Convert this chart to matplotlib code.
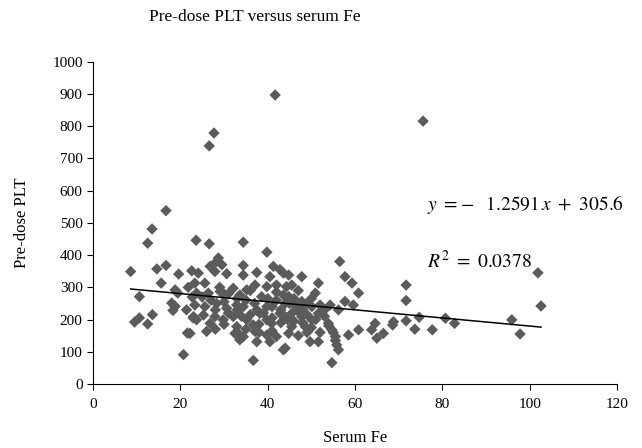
import matplotlib
matplotlib.use("Agg")
import matplotlib.pyplot as plt
import numpy as np

# ---- data ----
serum_fe = [
    # x < 22
    16.7, 13.5, 12.5, 8.6, 14.6, 16.7, 19.6, 15.6, 10.6, 9.5, 10.6, 13.6, 12.5,
    21.6, 20.7, 18.8, 19.4, 18.0, 18.8, 21.4, 21.8, 18.3, 22.9, 22.7, 22.6,
    # upper band 22-44
    23.6, 26.6, 27.9, 28.7, 34.4, 39.8, 29.5, 26.8, 34.4, 41.3, 42.8,
    # outliers
    27.7, 26.6, 41.7,
    # core 22-45
    24.1, 27.9, 30.6, 34.4, 37.5, 40.5, 43.6, 23.3, 25.6, 29.1, 32.1, 35.2,
    37.1, 39.8, 42.0, 44.3, 23.7, 26.4, 29.8, 33.6, 38.6, 43.6, 23.3, 25.6,
    28.3, 30.6, 32.9, 34.4, 37.5, 39.8, 23.0, 25.3, 27.9, 29.8, 32.1, 35.2,
    38.2, 39.8, 42.8, 23.7, 26.8, 32.9, 36.7, 40.9, 44.0, 26.0, 22.2, 32.5,
    34.4, 37.1, 39.8, 42.0, 33.6, 37.5, 40.5, 43.6, 36.7,
    25.0, 27.0, 28.0, 29.0, 30.0, 31.0, 31.0, 33.0, 33.0, 34.0, 35.0, 36.0,
    36.0, 37.0, 38.0, 39.0, 40.0, 41.0, 41.0, 42.0, 43.0, 43.0, 35.0, 30.0,
    28.0, 33.0, 38.0, 41.0, 42.0, 44.0,
    # core 44-67
    44.8, 47.8, 45.5, 51.6, 57.7, 59.3, 50.9, 60.8, 44.8, 47.8, 50.1, 54.3,
    57.7, 59.6, 56.2, 45.5, 47.8, 50.1, 51.6, 53.9, 45.5, 48.6, 44.8, 54.7,
    55.5, 58.5, 60.8, 64.6, 63.8, 65.0, 66.5, 49.7, 51.6, 55.8, 56.2, 44.0,
    54.7, 46.5, 47.0, 45.0, 49.0, 46.0, 48.0, 44.5, 54.0, 55.0, 55.5, 56.5,
    46.0, 47.0, 49.0, 50.0, 51.0, 52.0, 53.0, 52.0, 49.0, 47.0, 50.0, 53.0,
    48.0,
    # x > 67
    71.7, 71.7, 71.7, 68.8, 68.6, 73.7, 74.7, 77.7, 80.7, 82.8, 95.9, 97.8,
    101.9, 102.6, 75.6,
]
pre_dose_plt = [
    538, 481, 437, 349, 357, 368, 341, 313, 271, 192, 205, 215, 186,
    158, 91, 292, 282, 251, 241, 230, 300, 228, 205, 270, 351,
    446, 435, 375, 391, 440, 409, 370, 365, 368, 365, 355,
    779, 739, 897,
    344, 349, 342, 338, 346, 333, 344, 313, 313, 287, 297, 292,
    307, 302, 307, 302, 282, 282, 282, 276, 271, 276, 245, 240,
    250, 235, 245, 240, 230, 240, 209, 214, 209, 199, 209, 199,
    219, 199, 219, 199, 188, 178, 183, 188, 209, 163, 157, 157,
    147, 163, 152, 147, 137, 131, 131, 106, 73,
    270, 260, 230, 300, 255, 220, 280, 265, 230, 210, 260, 215,
    290, 250, 185, 220, 265, 240, 205, 285, 230, 190, 170, 185,
    170, 160, 160, 165, 260, 250,
    338, 333, 307, 313, 333, 313, 282, 282, 271, 256, 240, 245,
    256, 245, 230, 219, 209, 199, 219, 188, 178, 178, 157, 168,
    147, 152, 168, 188, 168, 142, 157, 131, 131, 121, 106, 111,
    66, 240, 225, 250, 215, 195, 190, 200, 180, 160, 135, 380,
    265, 290, 250, 265, 200, 245, 210, 160, 160, 150, 175, 230,
    230,
    307, 259, 196, 193, 183, 170, 207, 168, 204, 188, 199, 155,
    345, 242, 816,
]
trend_slope = -1.2591
trend_intercept = 305.6
r_squared = 0.0378

x_ticks = [0, 20, 40, 60, 80, 100, 120]
y_ticks = [0, 100, 200, 300, 400, 500, 600, 700, 800, 900, 1000]

plt.rcParams['font.family'] = ['Liberation Serif', 'DejaVu Serif']
plt.rcParams['mathtext.fontset'] = 'stix'

fig = plt.figure(figsize=(6.42, 4.48), dpi=100)
ax = fig.add_axes([0.145, 0.143, 0.816, 0.719])

ax.scatter(serum_fe, pre_dose_plt, marker='D', s=34, color='#5b5b5b',
           edgecolors='none', zorder=2)

xs = np.array([min(serum_fe), max(serum_fe)])
ax.plot(xs, trend_slope * xs + trend_intercept, color='black', lw=1.1, zorder=3)

ax.set_xlim(0, 120)
ax.set_ylim(0, 1000)
ax.set_xticks(x_ticks)
ax.set_yticks(y_ticks)
ax.tick_params(direction='out', length=4, width=0.8, labelsize=11, colors='black')
ax.tick_params(axis='x', pad=6)
for s in ['top', 'right']:
    ax.spines[s].set_visible(False)
for s in ['left', 'bottom']:
    ax.spines[s].set_linewidth(0.8)

fig.text(255 / 642, 1 - 17 / 448, 'Pre-dose PLT versus serum Fe',
         fontsize=12.5, ha='center', va='center')
ax.set_xlabel('Serum Fe', fontsize=12, labelpad=14)
ax.set_ylabel('Pre-dose PLT', fontsize=12, labelpad=16)

eq = r'$y\ =\!-\ \ %.4f\,x\ +\ %.1f$' % (abs(trend_slope), trend_intercept)
ax.text(76.6, 556, eq, fontsize=14, va='center', ha='left')
ax.text(76.6, 380, r'$R^2\ =\ %.4f$' % r_squared, fontsize=14, va='center', ha='left')

fig.savefig('out.png', dpi=100)
